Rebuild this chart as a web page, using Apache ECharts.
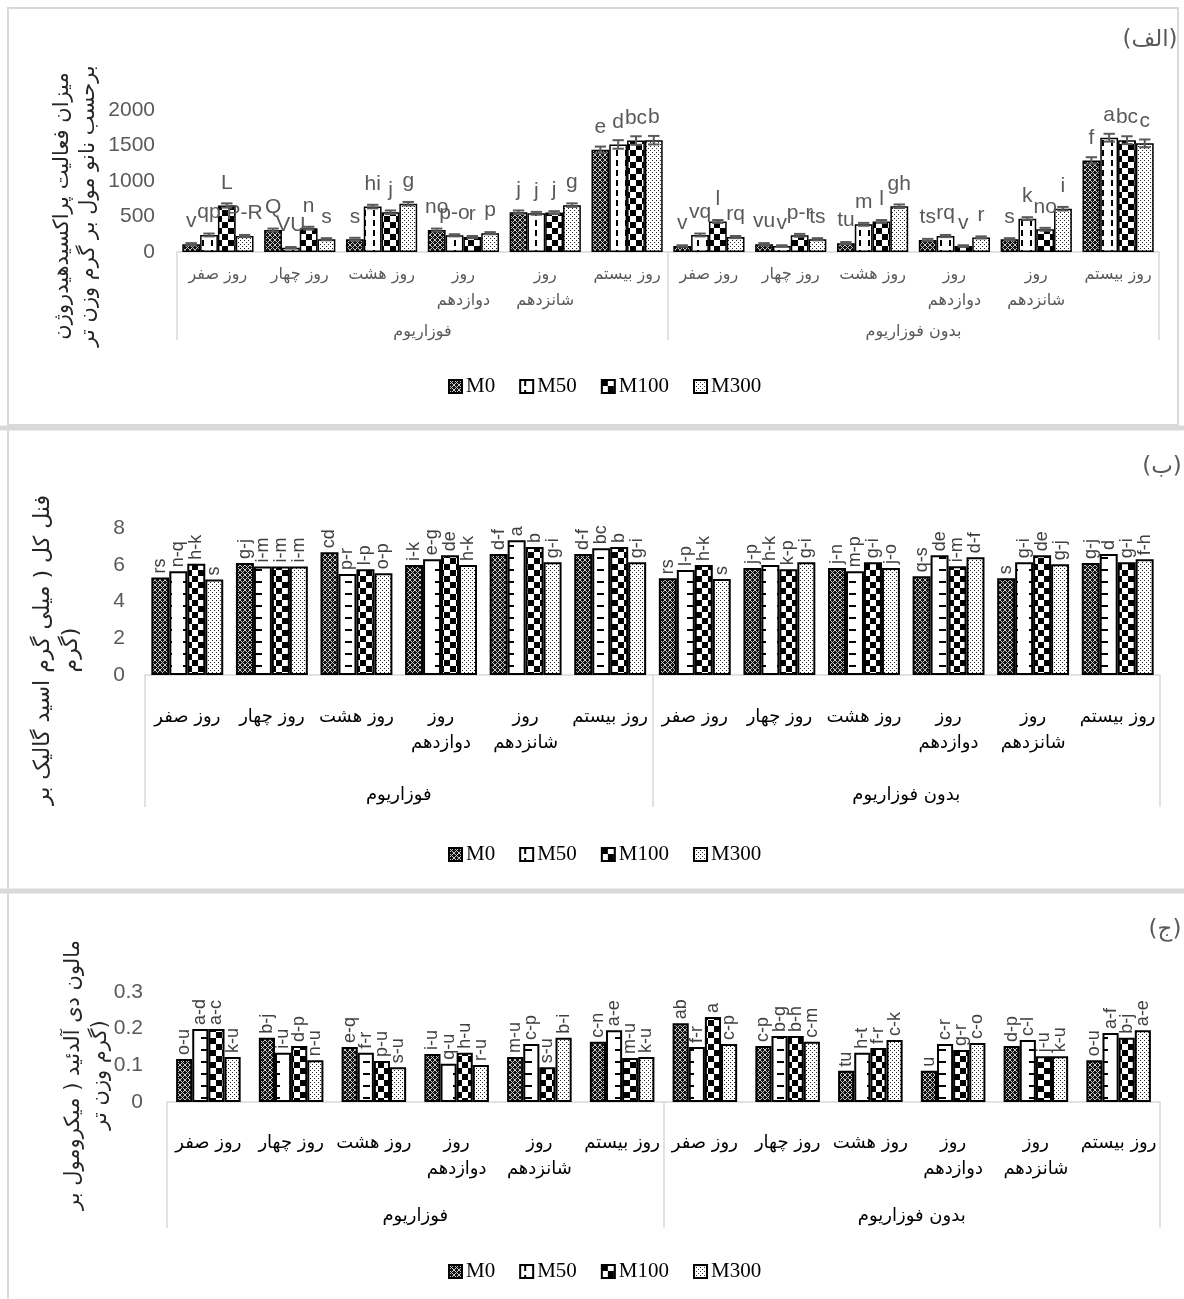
<!DOCTYPE html>
<html>
<head>
<meta charset="utf-8">
<script src="https://cdn.jsdelivr.net/npm/echarts@6/dist/echarts.min.js"></script>
<style>
  html, body { margin: 0; padding: 0; background: #fff; }
  #main { width: 1184px; height: 1299px; }
</style>
</head>
<body>
<div id="main"></div>
<script>
// ---- categories ----
const days = ['روز صفر', 'روز چهار', 'روز هشت', 'روز\nدوازدهم', 'روز\nشانزدهم', 'روز بیستم'];
const groups = ['فوزاریوم', 'بدون فوزاریوم'];
const seriesNames = ['M0', 'M50', 'M100', 'M300'];

// ---- (الف) peroxidase activity ----
const pox_M0   = [110, 310, 180, 310, 560, 1440, 85, 110, 125, 170, 180, 1290];
const pox_M50  = [240, 60, 640, 235, 545, 1515, 240, 85, 390, 225, 470, 1610];
const pox_M100 = [655, 335, 560, 210, 555, 1570, 430, 235, 430, 85, 320, 1575];
const pox_M300 = [225, 180, 680, 265, 660, 1575, 210, 180, 645, 205, 610, 1530];
const poxErr_M0   = [15, 20, 20, 20, 25, 45, 10, 15, 15, 15, 15, 45];
const poxErr_M50  = [20, 10, 25, 15, 20, 60, 20, 10, 20, 15, 20, 55];
const poxErr_M100 = [30, 20, 25, 15, 20, 60, 20, 20, 20, 10, 20, 55];
const poxErr_M300 = [15, 15, 25, 15, 25, 60, 15, 15, 25, 15, 25, 55];
const poxLet_M0   = ['v', 'Q', 's', 'no', 'j', 'e', 'v', 'vu', 'tu', 'ts', 's', 'f'];
const poxLet_M50  = ['qp', 'VU', 'hi', 'p-o', 'j', 'd', 'vq', 'v', 'm', 'rq', 'k', 'a'];
const poxLet_M100 = ['L', 'n', 'j', 'r', 'j', 'bc', 'l', 'p-r', 'l', 'v', 'no', 'bc'];
const poxLet_M300 = ['P-R', 's', 'g', 'p', 'g', 'b', 'rq', 'ts', 'gh', 'r', 'i', 'c'];

// ---- (ب) total phenol ----
const phe_M0   = [5.3, 6.1, 6.68, 5.98, 6.58, 6.58, 5.27, 5.82, 5.82, 5.38, 5.27, 6.09];
const phe_M50  = [5.65, 5.9, 5.49, 6.3, 7.34, 6.9, 5.71, 5.98, 5.65, 6.52, 6.14, 6.58];
const phe_M100 = [6.05, 5.9, 5.76, 6.52, 6.96, 6.96, 5.98, 5.76, 6.14, 5.92, 6.52, 6.14];
const phe_M300 = [5.2, 5.9, 5.54, 5.98, 6.14, 6.14, 5.22, 6.14, 5.82, 6.41, 6.03, 6.3];
const pheLet_M0   = ['rs', 'g-j', 'cd', 'i-k', 'd-f', 'd-f', 'rs', 'j-p', 'j-n', 'q-s', 's', 'g-j'];
const pheLet_M50  = ['n-q', 'i-m', 'p-r', 'e-g', 'a', 'bc', 'l-p', 'h-k', 'm-p', 'de', 'g-i', 'd'];
const pheLet_M100 = ['h-k', 'i-m', 'l-p', 'de', 'b', 'b', 'h-k', 'k-p', 'g-i', 'i-m', 'de', 'g-i'];
const pheLet_M300 = ['s', 'i-m', 'o-p', 'h-k', 'g-i', 'g-i', 's', 'g-i', 'j-o', 'd-f', 'g-j', 'f-h'];

// ---- (ج) malondialdehyde ----
const mda_M0   = [0.117, 0.175, 0.150, 0.131, 0.123, 0.164, 0.215, 0.153, 0.085, 0.085, 0.153, 0.114];
const mda_M50  = [0.199, 0.134, 0.134, 0.104, 0.158, 0.196, 0.150, 0.180, 0.134, 0.158, 0.169, 0.188];
const mda_M100 = [0.199, 0.153, 0.112, 0.134, 0.095, 0.120, 0.232, 0.180, 0.147, 0.142, 0.125, 0.175];
const mda_M300 = [0.123, 0.114, 0.095, 0.101, 0.175, 0.123, 0.158, 0.164, 0.169, 0.161, 0.125, 0.196];
const mdaLet_M0   = ['o-u', 'b-j', 'e-q', 'i-u', 'm-u', 'c-n', 'ab', 'c-p', 'tu', 'u', 'd-p', 'o-u'];
const mdaLet_M50  = ['a-d', 'i-u', 'f-r', 'q-u', 'c-p', 'a-e', 'f-r', 'b-g', 'h-t', 'c-r', 'c-l', 'a-f'];
const mdaLet_M100 = ['a-c', 'd-p', 'p-u', 'h-u', 's-u', 'm-u', 'a', 'b-h', 'f-r', 'g-r', 'j-u', 'b-j'];
const mdaLet_M300 = ['k-u', 'n-u', 's-u', 'r-u', 'b-i', 'k-u', 'c-p', 'c-m', 'c-k', 'c-o', 'k-u', 'a-e'];

const categories = groups.flatMap(() => days);

// ---- hatch fills ----
function tile(w, h, bg, draw) {
  const c = document.createElement('canvas');
  c.width = w; c.height = h;
  const g = c.getContext('2d');
  g.fillStyle = bg; g.fillRect(0, 0, w, h);
  g.fillStyle = '#000';
  draw(g);
  return { image: c, repeat: 'repeat' };
}
const fillMesh = tile(5, 5, '#111', g => {
  g.fillStyle = '#c8c8c8';
  for (let i = 0; i < 5; i++) { g.fillRect(i, i, 1, 1); g.fillRect(4 - i, i, 1, 1); }
});
const fillDashV = tile(9, 10, '#fff', g => { g.fillRect(4, 0, 2, 6); });
const fillDashH = tile(18, 12, '#fff', g => { g.fillRect(3, 5, 7, 2); });
const fillChecker = tile(12, 12, '#fff', g => { g.fillRect(0, 0, 6, 6); g.fillRect(6, 6, 6, 6); });
const fillDots = tile(4, 4, '#fff', g => { g.fillStyle = '#222'; g.fillRect(0, 0, 1, 1); g.fillRect(2, 2, 1, 1); });

const fillsTop = [fillMesh, fillDashV, fillChecker, fillDots];
const fillsLow = [fillMesh, fillDashH, fillChecker, fillDots];

const GRAY_TEXT = '#595959';
const LETTER = '#404040';
const FRAME = '#d9d9d9';
const FA = 'DejaVu Sans';

// panel layouts
const panels = [
  { top: 110, height: 142, left: 177, right: 25, max: 2000, interval: 500, gap: 0.13,
    labelMargin: 22, catMargin: 10, catColor: GRAY_TEXT, catSize: 16, groupMargin: 72, tickLen: 88,
    values: [pox_M0, pox_M50, pox_M100, pox_M300],
    letters: [poxLet_M0, poxLet_M50, poxLet_M100, poxLet_M300],
    errs: [poxErr_M0, poxErr_M50, poxErr_M100, poxErr_M300],
    fills: fillsTop, border: 1.5, legendTop: 371 },
  { top: 528, height: 147, left: 145, right: 24, max: 8, interval: 2, gap: 0.15,
    labelMargin: 20, catMargin: 29, catColor: '#000', catSize: 18, groupMargin: 111, tickLen: 132,
    values: [phe_M0, phe_M50, phe_M100, phe_M300],
    letters: [pheLet_M0, pheLet_M50, pheLet_M100, pheLet_M300],
    fills: fillsLow, border: 2, legendTop: 839 },
  { top: 992, height: 110, left: 167, right: 24, max: 0.3, interval: 0.1, gap: 0.22,
    labelMargin: 24, catMargin: 28, catColor: '#000', catSize: 18, groupMargin: 105, tickLen: 126,
    values: [mda_M0, mda_M50, mda_M100, mda_M300],
    letters: [mdaLet_M0, mdaLet_M50, mdaLet_M100, mdaLet_M300],
    fills: fillsLow, border: 2, legendTop: 1256 }
];

const grid = [], xAxis = [], yAxis = [], series = [], legend = [];

panels.forEach((p, pi) => {
  grid.push({ left: p.left, right: p.right, top: p.top, height: p.height });
  // day axis
  xAxis.push({
    type: 'category', gridIndex: pi, position: 'bottom', data: categories,
    axisLine: { show: true, lineStyle: { color: FRAME, width: 1.5 } },
    axisTick: { show: false },
    axisLabel: { interval: 0, margin: p.catMargin, color: p.catColor, fontFamily: FA,
                 fontSize: p.catSize, lineHeight: 26 }
  });
  // treatment axis (outer level)
  xAxis.push({
    type: 'category', gridIndex: pi, position: 'bottom', data: groups,
    axisLine: { show: false },
    axisTick: { show: true, length: p.tickLen, lineStyle: { color: FRAME, width: 1.5 } },
    axisLabel: { interval: 0, margin: p.groupMargin, color: p.catColor, fontFamily: FA, fontSize: p.catSize }
  });
  yAxis.push({
    type: 'value', gridIndex: pi, min: 0, max: p.max, interval: p.interval,
    axisLine: { show: false }, axisTick: { show: false }, splitLine: { show: false },
    axisLabel: { margin: p.labelMargin, color: GRAY_TEXT, fontFamily: 'Liberation Sans', fontSize: 21,
                 formatter: v => String(+v.toFixed(3)) }
  });

  seriesNames.forEach((name, k) => {
    const lets = p.letters[k];
    const horizontal = pi === 0;
    series.push({
      type: 'bar', name, xAxisIndex: pi * 2, yAxisIndex: pi,
      data: p.values[k],
      barGap: '0%', barCategoryGap: (p.gap * 100) + '%',
      itemStyle: { color: p.fills[k], borderColor: '#000', borderWidth: p.border },
      label: horizontal ? {
        show: true, position: 'top', distance: 12,
        formatter: d => lets[d.dataIndex],
        color: GRAY_TEXT, fontFamily: 'Liberation Sans', fontSize: 21
      } : {
        show: true, position: 'top', rotate: 90, align: 'left', verticalAlign: 'middle', distance: 4,
        formatter: d => lets[d.dataIndex],
        color: LETTER, fontFamily: 'Liberation Sans', fontSize: 18
      },
      emphasis: { disabled: true }
    });
  });

  if (p.errs) {
    seriesNames.forEach((name, k) => {
      const vals = p.values[k], errs = p.errs[k], gap = p.gap;
      series.push({
        type: 'custom', name: name + ' SE', xAxisIndex: pi * 2, yAxisIndex: pi, z: 5, silent: true,
        data: vals.map((v, i) => [i, v, errs[i]]),
        encode: { x: 0, y: 1 },
        renderItem: (params, api) => {
          const idx = api.value(0), v = api.value(1), e = api.value(2);
          const band = api.size([1, 0])[0];
          const span = band * (1 - gap);
          const bw = span / 4;
          const cx = api.coord([idx, v])[0] - span / 2 + bw * (k + 0.5);
          const yt = api.coord([idx, v + e])[1];
          const yb = api.coord([idx, v - e])[1];
          const cw = bw * 0.32;
          const st = { stroke: '#595959', lineWidth: 2 };
          return {
            type: 'group', children: [
              { type: 'line', shape: { x1: cx, y1: yt, x2: cx, y2: yb }, style: st },
              { type: 'line', shape: { x1: cx - cw, y1: yt, x2: cx + cw, y2: yt }, style: st },
              { type: 'line', shape: { x1: cx - cw, y1: yb, x2: cx + cw, y2: yb }, style: st }
            ]
          };
        }
      });
    });
  }

  legend.push({
    data: seriesNames, top: p.legendTop, left: 443, icon: 'rect',
    itemWidth: 13, itemHeight: 13, itemGap: 24,
    textStyle: { fontFamily: 'Liberation Serif', fontSize: 21, color: '#000', padding: [0, 0, 0, -1] },
    selectedMode: false
  });
});

// frames, panel marks and value titles
const titleStyle = (text, size, lh) => ({ text, fill: '#262626', font: size + 'px "DejaVu Sans"',
  align: 'center', verticalAlign: 'middle', lineHeight: lh });
const graphic = [
  { type: 'rect', shape: { x: 8, y: 8, width: 1170, height: 417 }, style: { fill: 'none', stroke: FRAME, lineWidth: 2 }, silent: true },
  { type: 'line', shape: { x1: 0, y1: 428, x2: 1184, y2: 428 }, style: { stroke: FRAME, lineWidth: 5 }, silent: true },
  { type: 'line', shape: { x1: 0, y1: 891, x2: 1184, y2: 891 }, style: { stroke: FRAME, lineWidth: 5 }, silent: true },
  { type: 'line', shape: { x1: 8, y1: 430, x2: 8, y2: 1299 }, style: { stroke: FRAME, lineWidth: 2 }, silent: true },
  { type: 'text', x: 1150, y: 40, style: { text: '(الف)', fill: GRAY_TEXT, font: '23px "DejaVu Sans"', align: 'center', verticalAlign: 'middle' } },
  { type: 'text', x: 1162, y: 467, style: { text: '(ب)', fill: GRAY_TEXT, font: '23px "DejaVu Sans"', align: 'center', verticalAlign: 'middle' } },
  { type: 'text', x: 1165, y: 930, style: { text: '(ج)', fill: GRAY_TEXT, font: '23px "DejaVu Sans"', align: 'center', verticalAlign: 'middle' } },
  { type: 'text', x: 76, y: 206, rotation: Math.PI / 2,
    style: titleStyle('میزان فعالیت پراکسیدهیدروژن\nبرحسب نانو مول بر گرم وزن تر', 21, 26) },
  { type: 'text', x: 57, y: 650, rotation: Math.PI / 2,
    style: titleStyle('فنل کل ( میلی گرم اسید گالیک بر\nگرم)', 22, 28) },
  { type: 'text', x: 87, y: 1075, rotation: Math.PI / 2,
    style: titleStyle('مالون دی آلدئید ( میکرومول بر\nگرم وزن تر)', 21, 27) }
];

const chart = echarts.init(document.getElementById('main'), null, { renderer: 'canvas' });
chart.setOption({
  animation: false,
  backgroundColor: '#fff',
  grid, xAxis, yAxis, series, legend, graphic
});
</script>
</body>
</html>
